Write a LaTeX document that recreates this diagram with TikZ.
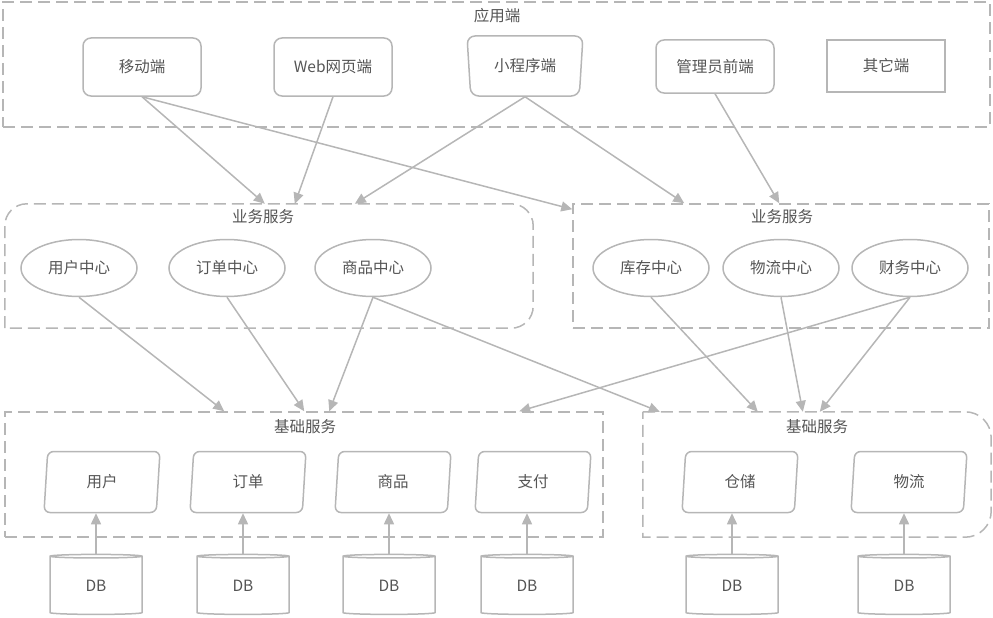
\documentclass[tikz,border=0pt]{standalone}
\usepackage{fontspec}
\setmainfont{Noto Sans CJK SC}
\usetikzlibrary{%
	arrows.meta,%
	shapes.geometric
}
\definecolor{linegray}{RGB}{182,182,182}
\definecolor{textgray}{RGB}{85,85,85}
\tikzset{
	label font/.style={text=textgray, font=\fontsize{15.5}{17}\selectfont},
	group/.style={draw=linegray, line width=1.5pt, dash pattern=on 12pt off 6pt},
	client/.style={label font, draw=linegray, line width=1.5pt, rounded corners=8pt, minimum width=118pt, minimum height=58pt},
	hub/.style={label font, ellipse, draw=linegray, line width=1.5pt, minimum width=116pt, minimum height=57pt},
	basebox/.style={label font, trapezium, trapezium left angle=80, trapezium right angle=100, trapezium stretches body, draw=linegray, line width=1.5pt, rounded corners=6pt, minimum width=116pt, minimum height=61pt},
	dbbox/.style={label font, cylinder, shape border rotate=90, aspect=0.13, draw=linegray, line width=1.5pt, minimum width=92pt, minimum height=60pt},
	link/.style={draw=linegray, line width=1.5pt, -{Triangle[length=11pt,width=10pt]}}
}
\begin{document}
\begin{tikzpicture}[x=1pt, y=-1pt]
			\useasboundingbox (0,0) rectangle (993,618);
			
			% Draw the groups
			\node[group, minimum width=987pt, minimum height=125pt] (app) at (496.5,64.5) {};
			\node[draw=none, minimum width=528pt, minimum height=124pt] (bizL) at (269,266) {};
			\node[group, minimum width=416pt, minimum height=124pt] (bizR) at (781,266) {};
			\node[group, minimum width=598pt, minimum height=125pt] (baseL) at (304,474.5) {};
			\node[draw=none, minimum width=348pt, minimum height=125pt] (baseR) at (817,474.5) {};
			\draw[group] (bizL.south west) [rounded corners=22pt] -- (bizL.north west) -- (bizL.north east) -- (bizL.south east) [sharp corners] -- cycle;
			\draw[group] (baseR.north west) [rounded corners=26pt] -- (baseR.north east) -- (baseR.south east) [sharp corners] -- (baseR.south west) -- cycle;
			
			% Group titles
			\node[label font] (appT) at (497,16) {应用端};
			\node[label font] (bizLT) at (263,217) {业务服务};
			\node[label font] (bizRT) at (782,217) {业务服务};
			\node[label font] (baseLT) at (305,427) {基础服务};
			\node[label font] (baseRT) at (817,427) {基础服务};
			
			% Clients
			\node[client] (mobile) at (142,67) {移动端};
			\node[client] (web) at (333,67) {Web网页端};
			\node[client, trapezium, trapezium left angle=100, trapezium right angle=100, trapezium stretches body, minimum width=116pt, minimum height=60pt] (mini) at (525,66) {小程序端};
			\node[client, minimum height=53pt] (admin) at (715,66.5) {管理员前端};
			\node[client, rounded corners=0pt, minimum height=52pt] (other) at (886,66) {其它端};
			
			% Business centers
			\node[hub] (userC) at (79,268) {用户中心};
			\node[hub] (orderC) at (227,268) {订单中心};
			\node[hub] (goodsC) at (373,268) {商品中心};
			\node[hub] (stockC) at (651,268) {库存中心};
			\node[hub] (logiC) at (781,268) {物流中心};
			\node[hub] (finC) at (910,268) {财务中心};
			
			% Base services
			\node[basebox] (user) at (102,482) {用户};
			\node[basebox] (order) at (248,482) {订单};
			\node[basebox] (goods) at (393,482) {商品};
			\node[basebox] (pay) at (533,482) {支付};
			\node[basebox] (store) at (740,482) {仓储};
			\node[basebox] (logi) at (909,482) {物流};
			
			% Databases
			\foreach \name/\x in {dbA/96, dbB/243, dbC/389, dbD/527, dbE/732, dbF/904} {
				\node[dbbox] (\name) at (\x,586) {DB};
			}
			
			% Draw links from the clients
			\draw[link] (mobile.south) -- ([xshift=260pt]bizL.north west);
			\draw[link] (mobile.south) -- ([yshift=-6pt]bizR.north west);
			\draw[link] (web.south) -- ([xshift=290pt]bizL.north west);
			\draw[link] (mini.south) -- ([xshift=350pt]bizL.north west);
			\draw[link] (mini.south) -- ([xshift=112pt]bizR.north west);
			\draw[link] (admin.south) -- ([xshift=207pt]bizR.north west);
			
			% Draw links from the centers
			\draw[link] (userC.south) -- ([xshift=220pt]baseL.north west);
			\draw[link] (orderC.south) -- ([xshift=300pt]baseL.north west);
			\draw[link] (goodsC.south) -- ([xshift=325pt]baseL.north west);
			\draw[link] (goodsC.south) -- ([xshift=17pt]baseR.north west);
			\draw[link] (stockC.south) -- ([xshift=115pt]baseR.north west);
			\draw[link] (logiC.south) -- ([xshift=160pt]baseR.north west);
			\draw[link] (finC.south) -- ([xshift=515pt]baseL.north west);
			\draw[link] (finC.south) -- ([xshift=177pt]baseR.north west);
			
			% Draw links from the databases
			\foreach \db/\svc in {dbA/user, dbB/order, dbC/goods, dbD/pay, dbE/store, dbF/logi} {
				\draw[link] (\db.north) -- (\db.north |- \svc.south);
			}
		\end{tikzpicture}
\end{document}
